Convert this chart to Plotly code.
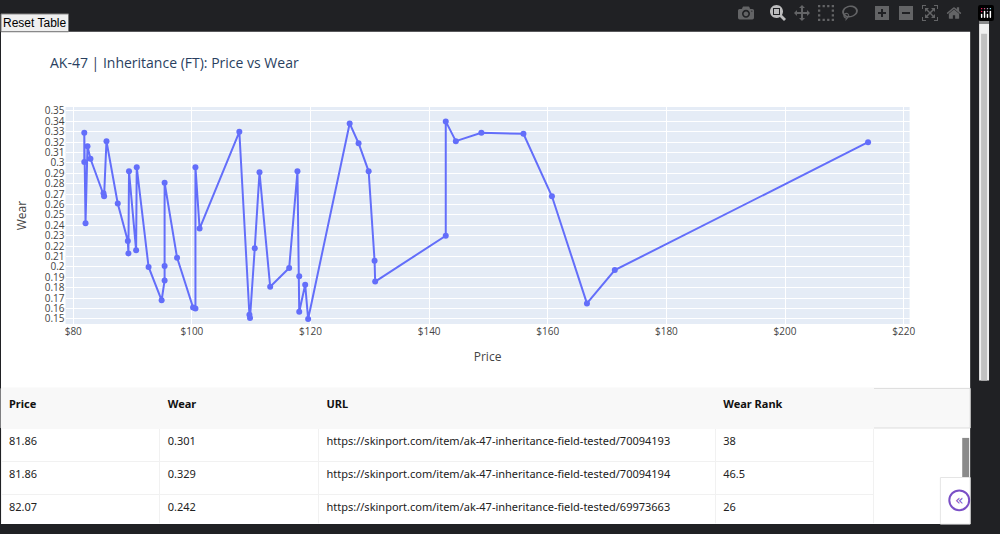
import plotly.graph_objects as go

W, H = 1000, 534

price = [81.86, 81.86, 82.07, 82.4, 82.9, 85.1, 85.2, 85.6, 87.5, 89.2, 89.3, 89.4, 90.6, 90.7,
         92.7, 94.9, 95.4, 95.4, 95.4, 97.5, 100.2, 100.6, 100.6, 101.3, 108.0, 109.7, 109.8,
         110.6, 111.4, 113.2, 116.4, 117.8, 118.1, 118.1, 119.1, 119.6, 126.6, 128.1, 129.8,
         130.8, 130.9, 142.8, 142.8, 144.5, 148.8, 155.9, 160.7, 166.6, 171.3, 214.0]
wear = [0.301, 0.329, 0.242, 0.316, 0.304, 0.271, 0.268, 0.321, 0.261, 0.225, 0.213, 0.292, 0.216, 0.296,
        0.200, 0.168, 0.187, 0.201, 0.281, 0.209, 0.161, 0.160, 0.296, 0.237, 0.330, 0.154, 0.151,
        0.218, 0.291, 0.181, 0.199, 0.292, 0.191, 0.157, 0.183, 0.150, 0.338, 0.319, 0.292,
        0.206, 0.186, 0.230, 0.340, 0.321, 0.329, 0.328, 0.268, 0.165, 0.197, 0.320]

tbl_price = ["81.86", "81.86", "82.07"]
tbl_wear = ["0.301", "0.329", "0.242"]
tbl_url = ["https://skinport.com/item/ak-47-inheritance-field-tested/70094193",
           "https://skinport.com/item/ak-47-inheritance-field-tested/70094194",
           "https://skinport.com/item/ak-47-inheritance-field-tested/69973663"]
tbl_rank = ["38", "46.5", "26"]


def px(x):
    return x / W


def py(y):
    return 1 - y / H


fig = go.Figure()
fig.add_trace(go.Scatter(x=price, y=wear, mode="lines+markers",
                         line=dict(color="#636efa", width=2), marker=dict(size=6),
                         showlegend=False))

fig.add_trace(go.Table(
    domain=dict(x=[0, 0.88], y=[py(525), py(388)]),
    columnwidth=[160, 160, 400, 160],
    header=dict(values=["<b>Price</b>", "<b>Wear</b>", "<b>URL</b>", "<b>Wear Rank</b>"],
                fill_color="#f8f8f8", line_color="#f8f8f8", align="left", height=40,
                font=dict(family="Segoe UI, Noto Sans, sans-serif", size=11, color="#111")),
    cells=dict(values=[tbl_price, tbl_wear, tbl_url, tbl_rank],
               fill_color="white", line_color="#f1f1f1", align="left", height=33,
               font=dict(family="Segoe UI, Noto Sans, sans-serif", size=11, color="#222")),
))

shapes = [
    dict(type="rect", x0=px(0), x1=px(976), y0=py(388), y1=py(28), fillcolor="white", line_width=0),
    dict(type="rect", x0=px(0), x1=px(976), y0=py(525), y1=py(388), fillcolor="white", line_width=0),
    dict(type="rect", x0=px(0), x1=px(976), y0=py(428), y1=py(388), fillcolor="#f8f8f8",
         line=dict(color="#dddddd", width=1)),
    dict(type="rect", x0=px(65), x1=px(915), y0=py(323), y1=py(104), fillcolor="#e5ecf6", line_width=0),
    dict(type="rect", x0=px(985), x1=px(995), y0=py(380), y1=py(10), fillcolor="#f0f0f0", line_width=0),
    dict(type="rect", x0=px(987), x1=px(993), y0=py(380), y1=py(30), fillcolor="#c1c1c1", line_width=0),
    dict(type="rect", x0=px(968), x1=px(975), y0=py(480), y1=py(438), fillcolor="#8a8a8a", line_width=0),
    dict(type="rect", x0=px(946), x1=px(976), y0=py(525), y1=py(478), fillcolor="white",
         line=dict(color="#e5e5e5", width=1)),
    dict(type="circle", x0=px(955), x1=px(975), y0=py(511), y1=py(491),
         line=dict(color="#7a4fc6", width=2)),
    dict(type="rect", x0=px(0), x1=px(68), y0=py(28), y1=py(10), fillcolor="#efefef",
         line=dict(color="#767676", width=1)),
]

annotations = [
    dict(text="Reset Table", x=px(34), y=py(19), xanchor="center", yanchor="middle"),
    dict(text="«", x=px(965), y=py(501), xanchor="center", yanchor="middle",
         font=dict(family="DejaVu Sans", size=14, color="#7a4fc6")),
]
for a in annotations:
    a.update(xref="paper", yref="paper", showarrow=False)
annotations[0]["font"] = dict(family="Liberation Sans, Arial", size=12, color="black")

fig.update_layout(
    width=W, height=H, margin=dict(l=0, r=0, t=0, b=0),
    paper_bgcolor="#202124", plot_bgcolor="#e5ecf6",
    font=dict(family="Open Sans, Verdana, sans-serif", color="#444", size=10),
    title=dict(text="AK-47 | Inheritance (FT): Price vs Wear", x=0.05, xanchor="left",
               y=py(63), yanchor="middle", font=dict(size=14, color="#2a3f5f")),
    shapes=[dict(s, xref="paper", yref="paper", layer="below") for s in shapes],
    annotations=annotations,
    xaxis=dict(domain=[px(65), px(915)], range=[78.7, 221], dtick=20, tickprefix="$",
               gridcolor="white", zeroline=False, tickfont=dict(size=10),
               title=dict(text="Price", font=dict(size=12))),
    yaxis=dict(domain=[py(323), py(104)], range=[0.1452, 0.3538], dtick=0.01,
               gridcolor="white", zeroline=False, tickfont=dict(size=10),
               title=dict(text="Wear", font=dict(size=12))),
)

fig.write_html("out.html", post_script="document.body.style.margin='0';")
